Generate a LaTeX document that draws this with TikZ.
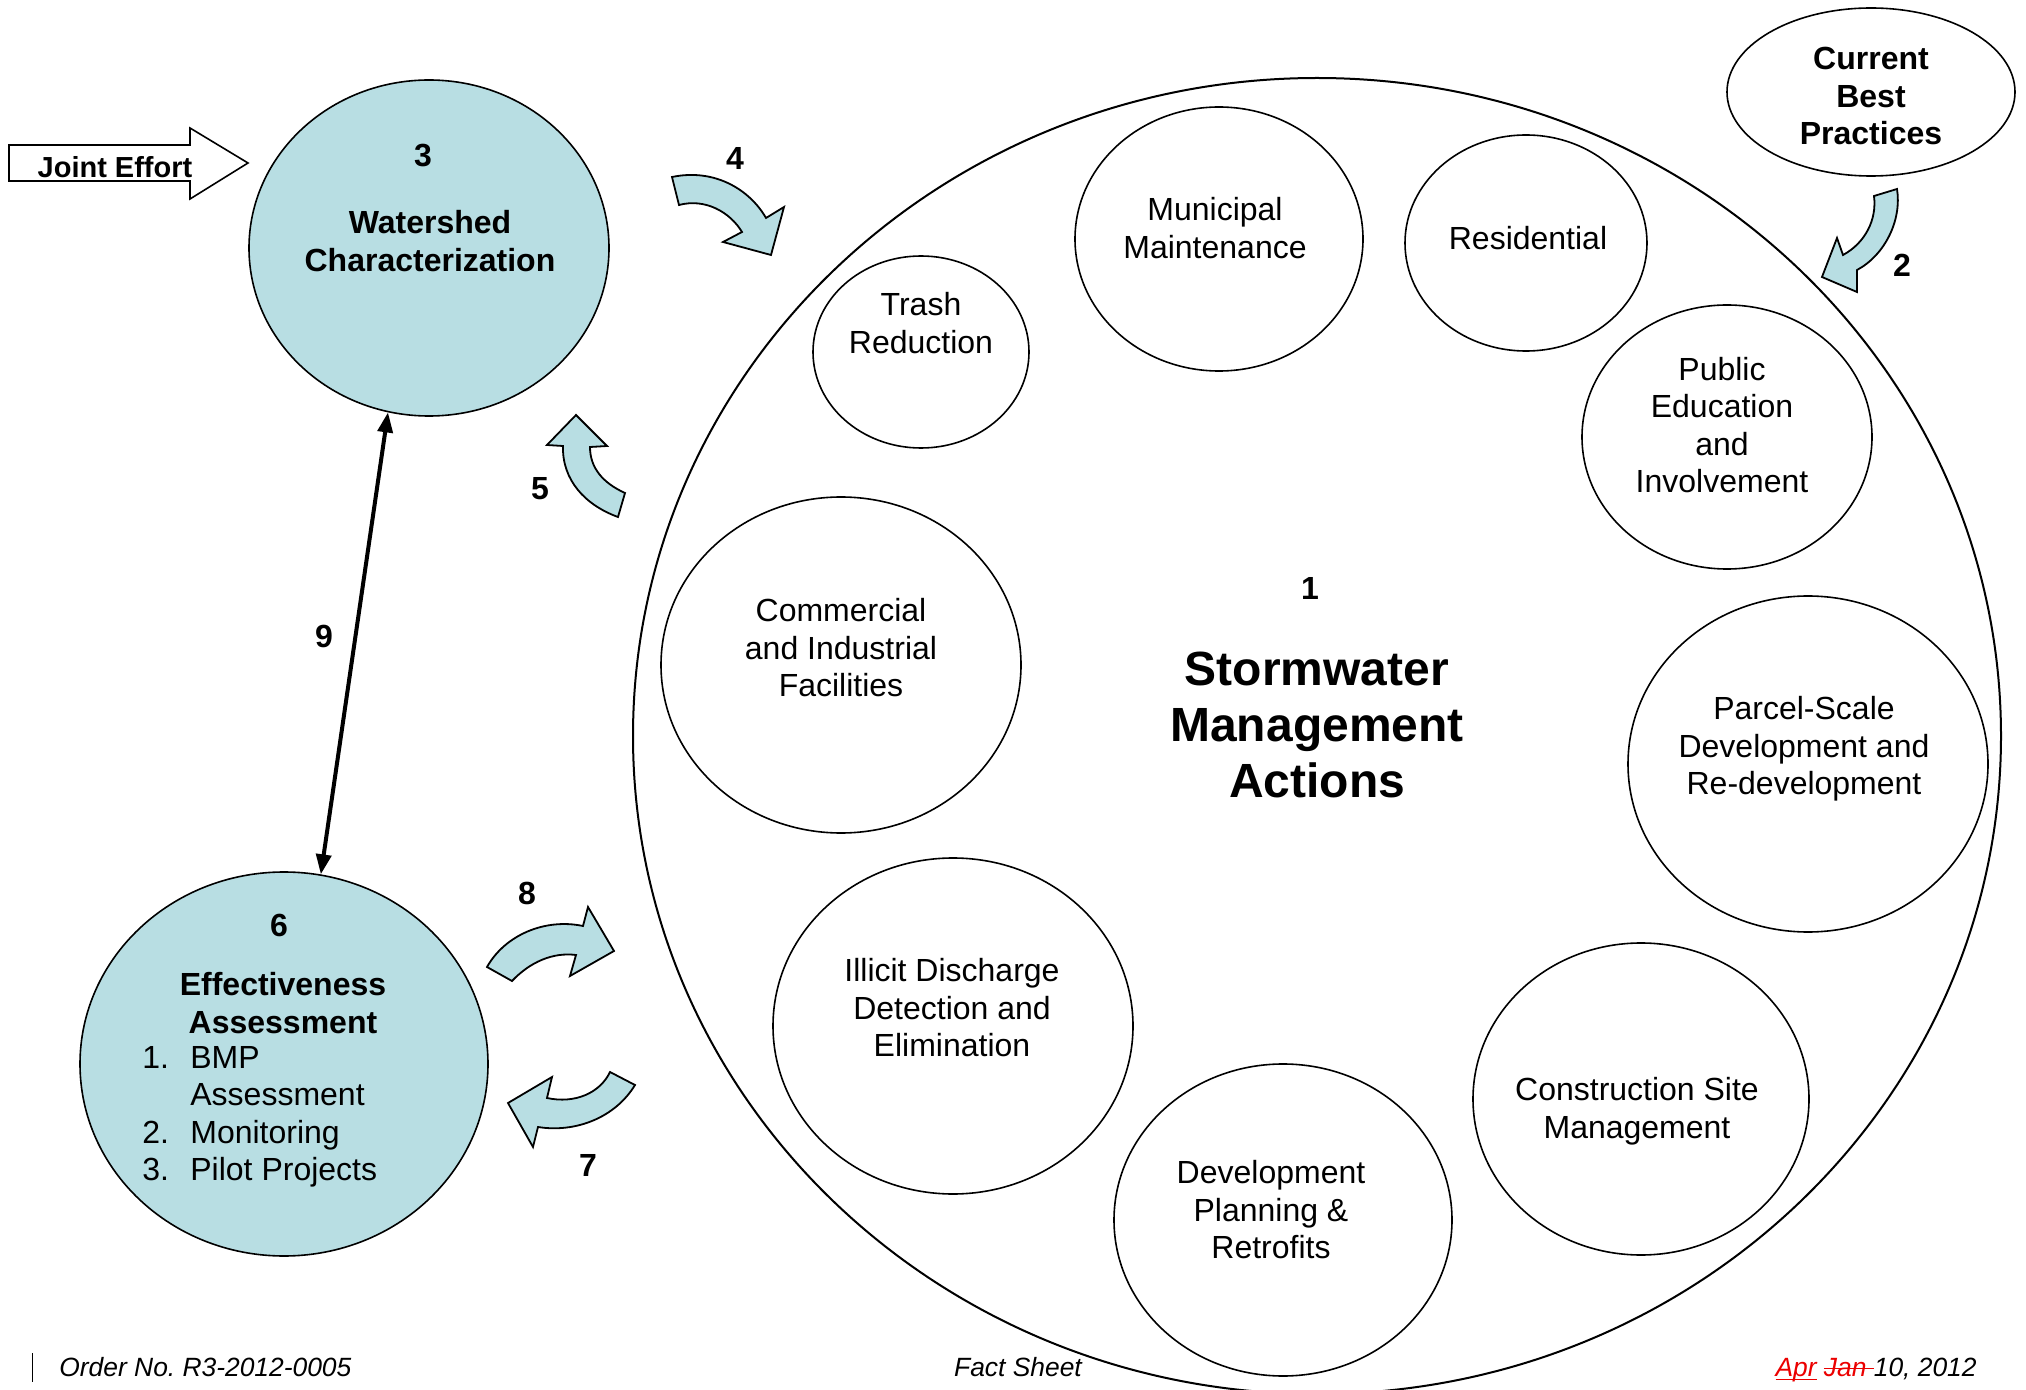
\documentclass[tikz,border=0pt]{standalone}
\usepackage{fontspec}
\setmainfont{Liberation Sans}
\usetikzlibrary{shapes.geometric,arrows.meta}
\definecolor{paleblue}{RGB}{184,222,227}
\definecolor{datered}{RGB}{235,0,0}
\newcommand{\ulword}[1]{\setbox0\hbox{#1}\rlap{\rule[-2.2pt]{\wd0}{0.7pt}}\box0}
\newcommand{\soword}[1]{\setbox0\hbox{#1}\rlap{\rule[3.4pt]{\wd0}{0.7pt}}\box0}
\begin{document}
\begin{tikzpicture}[x=0.5pt,y=-0.5pt,
bubble/.style ={ellipse, draw, line width=0.8pt, inner sep=0pt},
stage/.style ={bubble, fill=paleblue},
words/.style ={align=center, font=\fontsize{16}{18.75}\selectfont},
heading/.style ={align=center, font=\bfseries\fontsize{16}{18.75}\selectfont},
num/.style ={font=\bfseries\fontsize{16}{18.75}\selectfont},
curvy/.style ={draw, line width=0.9pt, fill=paleblue, line join=miter},
foot/.style ={font=\itshape\fontsize{13.2}{16}\selectfont, inner sep=0pt}
]
\path[use as bounding box, clip] (0,0) rectangle (2026,1390);

% big action circle
\node (sma) at (1317,736) [bubble, line width=1pt, minimum width=684pt, minimum height=658pt] {};
\node (smanum) at (1310,588) [num] {1};
\node (smatitle) at (1317,725) [align=center, font=\bfseries\fontsize{24}{27.8}\selectfont] {Stormwater\\Management\\Actions};

% actions
\node (trash) at (921,352) [bubble, minimum width=108pt, minimum height=96pt] {};
\node (trashtxt) at (921,323) [words] {Trash\\Reduction};
\node (muni) at (1219,239) [bubble, minimum width=144pt, minimum height=132pt] {};
\node (munitxt) at (1215,228) [words] {Municipal\\Maintenance};
\node (resi) at (1526,243) [bubble, minimum width=121pt, minimum height=108pt] {};
\node (resitxt) at (1528,238) [words] {Residential};
\node (pub) at (1727,437) [bubble, minimum width=145pt, minimum height=132pt] {};
\node (pubtxt) at (1722,425) [words] {Public\\Education\\and\\Involvement};
\node (parcel) at (1808,764) [bubble, minimum width=180pt, minimum height=168pt] {};
\node (parceltxt) at (1804,749) [words] {Parcel-Scale\\Development and\\Re-development};
\node (constr) at (1641,1099) [bubble, minimum width=168pt, minimum height=156pt] {};
\node (constrtxt) at (1637,1111) [words] {Construction Site\\Management};
\node (devel) at (1283,1220) [bubble, minimum width=169pt, minimum height=156pt] {};
\node (develtxt) at (1271,1210) [words] {Development\\Planning \&\\Retrofits};
\node (illicit) at (953,1026) [bubble, minimum width=180pt, minimum height=168pt] {};
\node (illicittxt) at (952,1008) [words] {Illicit Discharge\\Detection and\\Elimination};
\node (comm) at (841,665) [bubble, minimum width=180pt, minimum height=168pt] {};
\node (commtxt) at (841,648) [words] {Commercial\\and Industrial\\Facilities};

% best practices
\node (cbp) at (1871,92) [bubble, minimum width=144pt, minimum height=84pt] {};
\node (cbptxt) at (1871,96) [heading] {Current\\Best\\Practices};

% watershed characterization
\node (ws) at (429,248) [stage, minimum width=180pt, minimum height=168pt] {};
\node (wsnum) at (423,156) [num] {3};
\node (wstxt) at (430,241) [heading] {Watershed\\Characterization};

% effectiveness assessment
\node (eff) at (284,1064) [stage, minimum width=204pt, minimum height=192pt] {};
\node (effnum) at (279,925) [num] {6};
\node (efftxt) at (283,1003) [heading] {Effectiveness\\Assessment};
\node (efflist) at (142,1117) [words, anchor=west, align=left, inner sep=0pt] {%
\makebox[24pt][l]{1.}BMP\\\makebox[24pt][l]{}Assessment\\%
\makebox[24pt][l]{2.}Monitoring\\\makebox[24pt][l]{3.}Pilot Projects};

% joint effort
\draw[line width=0.8pt] (9,145) -- (190,145) -- (190,128) -- (248,163) -- (190,199) -- (190,181) -- (9,181) -- cycle;
\node (joint) at (115,167) [font=\bfseries\fontsize{14.5}{17}\selectfont] {Joint Effort};

% 9
\draw[line width=2pt, {Triangle[length=10pt,width=7.5pt]}-{Triangle[length=10pt,width=7.5pt]}] (ws.256) -- (eff.79);
\node (n9) at (324,636) [num] {9};

% curved block arrows
\draw[curvy] (672,177) -- (679,205) .. controls (705,198) and (730,212) .. (742,232) -- (723,242) -- (771,255) -- (784,207) -- (766,218) .. controls (750,190) and (715,168) .. cycle;
\node (n4) at (735,158) [num] {4};
\draw[curvy] (576,415) -- (547,445) -- (563,446) .. controls (562,480) and (585,505) .. (618,517) -- (625,493) .. controls (603,483) and (590,468) .. (590,447) -- (607,446) -- cycle;
\node (n5) at (540,489) [num] {5};
\draw[curvy] (487,967) -- (512,981) .. controls (530,962) and (553,952) .. (576,955) -- (570,976) -- (614,951) -- (588,907) -- (583,926) .. controls (545,918) and (505,935) .. cycle;
\node (n8) at (527,893) [num] {8};
\draw[curvy] (610,1072) -- (635,1085) .. controls (615,1118) and (575,1133) .. (538,1127) -- (533,1147) -- (508,1103) -- (552,1077) -- (547,1098) .. controls (575,1104) and (600,1093) .. cycle;
\node (n7) at (588,1165) [num] {7};
\draw[curvy] (1874,196) -- (1897,189) .. controls (1902,220) and (1885,255) .. (1857,270) -- (1857,292) -- (1822,277) -- (1837,238) -- (1843,255) .. controls (1865,243) and (1877,220) .. cycle;
\node (n2) at (1902,265) [num] {2};

% footer
\draw[line width=0.5pt] (32,1353) -- (32,1382);
\node (order) at (59,1376) [foot, anchor=base west] {Order No.\ R3-2012-0005};
\node (fact) at (1018,1376) [foot, anchor=base] {Fact Sheet};
\node (date) at (1977,1376) [foot, anchor=base east] {\textcolor{datered}{\ulword{Apr}} \textcolor{datered}{\soword{Jan }}10, 2012};
\end{tikzpicture}
\end{document}
